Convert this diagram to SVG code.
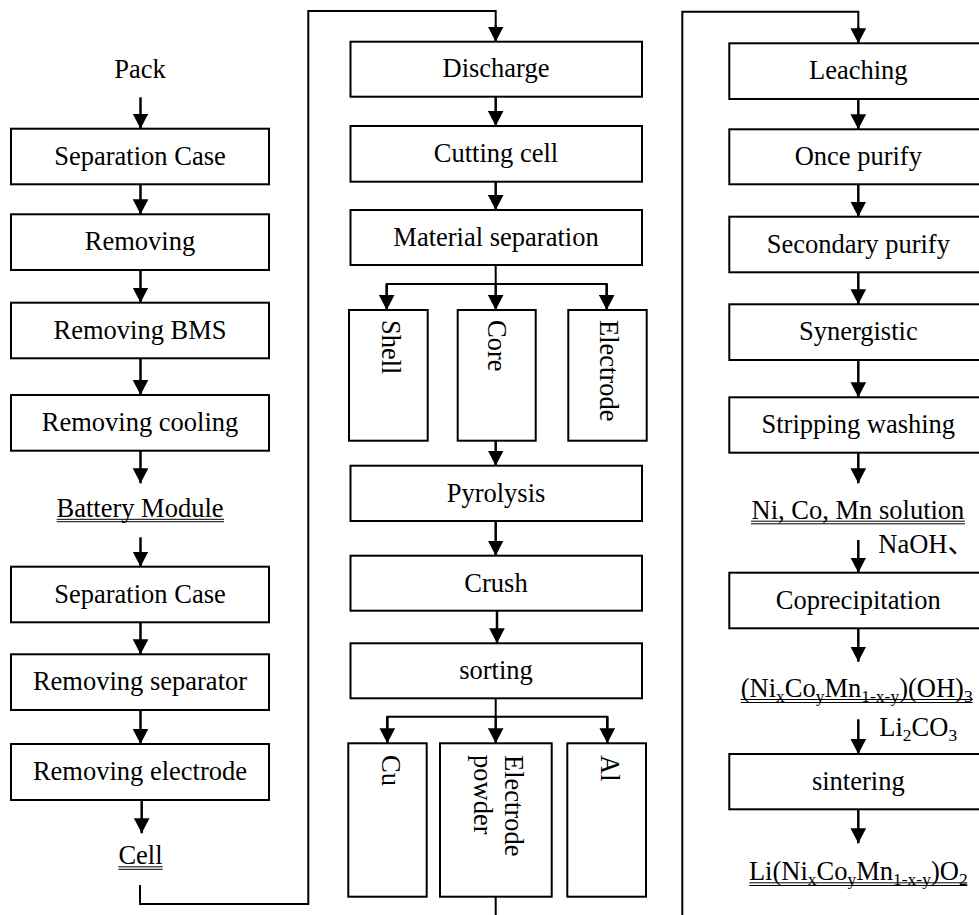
<svg xmlns="http://www.w3.org/2000/svg" width="979" height="915" viewBox="0 0 979 915">
<defs>
<style>
.box{fill:#fff;stroke:#000;stroke-width:2}
.t{font-family:"Liberation Serif","Times New Roman",serif;font-size:26.5px;fill:#000;text-anchor:middle}
.tv{font-family:"Liberation Serif","Times New Roman",serif;font-size:26.5px;fill:#000;text-anchor:start}
.tl{font-family:"Liberation Serif","Noto Sans CJK SC",serif;font-size:26.5px;fill:#000;text-anchor:start}
.sub{font-size:17.5px}
.ul{stroke:#000;stroke-width:1}
.arr{fill:none;stroke:#000;stroke-width:2.5;marker-end:url(#ah)}
.ln{fill:none;stroke:#000;stroke-width:2}
</style>
<marker id="ah" markerUnits="userSpaceOnUse" markerWidth="16" markerHeight="16" refX="15" refY="7.8" orient="auto">
<path d="M0,0 L15,7.8 L0,15.6 z" fill="#000"/>
</marker>
</defs>
<rect width="979" height="915" fill="#fff"/>

<!-- Left column -->
<g id="pack"><text class="t" x="140" y="77.5">Pack</text></g>
<g id="l1"><rect class="box" x="11" y="128.7" width="258" height="55.6"/><text class="t" x="140" y="164.5">Separation Case</text></g>
<g id="l2"><rect class="box" x="11" y="214.3" width="258" height="55.7"/><text class="t" x="140" y="250">Removing</text></g>
<g id="l3"><rect class="box" x="11" y="302.7" width="258" height="55.6"/><text class="t" x="140" y="338.5">Removing BMS</text></g>
<g id="l4"><rect class="box" x="11" y="395" width="258" height="55.7"/><text class="t" x="140" y="430.8">Removing cooling</text></g>
<g id="module"><text class="t" x="140" y="516.7">Battery Module</text><line class="ul" x1="56.7" y1="519.3" x2="224" y2="519.3"/><line class="ul" x1="56.7" y1="521.7" x2="224" y2="521.7"/></g>
<g id="l5"><rect class="box" x="11" y="566.7" width="258" height="55.6"/><text class="t" x="140" y="602.5">Separation Case</text></g>
<g id="l6"><rect class="box" x="11" y="654.3" width="258" height="55.7"/><text class="t" x="140" y="690">Removing separator</text></g>
<g id="l7"><rect class="box" x="11" y="744" width="258" height="56"/><text class="t" x="140" y="780">Removing electrode</text></g>
<g id="cell"><text class="t" x="140.5" y="864.3">Cell</text><line class="ul" x1="118.3" y1="866.8" x2="162.7" y2="866.8"/><line class="ul" x1="118.3" y1="869.3" x2="162.7" y2="869.3"/></g>

<!-- Middle column -->
<g id="m1"><rect class="box" x="350.5" y="41.7" width="291.5" height="55"/><text class="t" x="496" y="77">Discharge</text></g>
<g id="m2"><rect class="box" x="350.5" y="126" width="291.5" height="55.7"/><text class="t" x="496" y="161.8">Cutting cell</text></g>
<g id="m3"><rect class="box" x="350.5" y="210" width="291.5" height="55"/><text class="t" x="496" y="245.5">Material separation</text></g>
<g id="shell"><rect class="box" x="349" y="310" width="78.7" height="130.7"/><text class="tv" transform="translate(382,320) rotate(90)">Shell</text></g>
<g id="core"><rect class="box" x="457.7" y="310" width="78" height="130.7"/><text class="tv" transform="translate(488,320) rotate(90)">Core</text></g>
<g id="electrode"><rect class="box" x="568.3" y="310" width="78.4" height="130.7"/><text class="tv" transform="translate(600,320) rotate(90)">Electrode</text></g>
<g id="m4"><rect class="box" x="350.5" y="465.7" width="291.5" height="55.3"/><text class="t" x="496" y="501.5">Pyrolysis</text></g>
<g id="m5"><rect class="box" x="350.5" y="555.7" width="291.5" height="55"/><text class="t" x="496" y="591.5">Crush</text></g>
<g id="m6"><rect class="box" x="350.5" y="643.3" width="291.5" height="55"/><text class="t" x="496" y="678.5">sorting</text></g>
<g id="cu"><rect class="box" x="348.3" y="743.3" width="78.4" height="153.4"/><text class="tv" transform="translate(382,755) rotate(90)">Cu</text></g>
<g id="powder"><rect class="box" x="440" y="743.3" width="111.7" height="153.4"/><text class="tv" transform="translate(505,755) rotate(90)"><tspan x="0" y="0">Electrode</tspan><tspan x="0" y="31">powder</tspan></text></g>
<g id="al"><rect class="box" x="567.3" y="743.3" width="78.7" height="153.4"/><text class="tv" transform="translate(600.5,755) rotate(90)">Al</text></g>

<!-- Right column -->
<g id="r1"><rect class="box" x="729.3" y="43.3" width="260" height="55.7"/><text class="t" x="858.3" y="79">Leaching</text></g>
<g id="r2"><rect class="box" x="729.3" y="129.3" width="260" height="55"/><text class="t" x="858.3" y="164.8">Once purify</text></g>
<g id="r3"><rect class="box" x="729.3" y="216.7" width="260" height="55.6"/><text class="t" x="858.3" y="252.5">Secondary purify</text></g>
<g id="r4"><rect class="box" x="729.3" y="304.3" width="260" height="55.7"/><text class="t" x="858.3" y="340">Synergistic</text></g>
<g id="r5"><rect class="box" x="729.3" y="397.3" width="260" height="55.4"/><text class="t" x="858.3" y="433">Stripping washing</text></g>
<g id="solution"><text class="t" x="858" y="518.5">Ni, Co, Mn solution</text><line class="ul" x1="751" y1="521.2" x2="965" y2="521.2"/><line class="ul" x1="751" y1="523.8" x2="965" y2="523.8"/></g>
<g id="naoh"><text class="tl" x="878.3" y="553.3">NaOH、</text></g>
<g id="r6"><rect class="box" x="729.3" y="572.7" width="260" height="55.6"/><text class="t" x="858.3" y="608.5">Coprecipitation</text></g>
<g id="hydroxide"><text class="t" x="856.7" y="696.7">(Ni<tspan class="sub" dy="5">x</tspan><tspan dy="-5">Co</tspan><tspan class="sub" dy="5">y</tspan><tspan dy="-5">Mn</tspan><tspan class="sub" dy="5">1-x-y</tspan><tspan dy="-5">)(OH)</tspan><tspan class="sub" dy="5">3</tspan></text><line class="ul" x1="740.7" y1="699.5" x2="972.7" y2="699.5"/><line class="ul" x1="740.7" y1="702.5" x2="972.7" y2="702.5"/></g>
<g id="li2co3"><text class="tl" x="879.3" y="736">Li<tspan class="sub" dy="5">2</tspan><tspan dy="-5">CO</tspan><tspan class="sub" dy="5">3</tspan></text></g>
<g id="r7"><rect class="box" x="729.3" y="754" width="260" height="55.3"/><text class="t" x="858.3" y="789.8">sintering</text></g>
<g id="product"><text class="t" x="858.3" y="880">Li(Ni<tspan class="sub" dy="5">x</tspan><tspan dy="-5">Co</tspan><tspan class="sub" dy="5">y</tspan><tspan dy="-5">Mn</tspan><tspan class="sub" dy="5">1-x-y</tspan><tspan dy="-5">)O</tspan><tspan class="sub" dy="5">2</tspan></text><line class="ul" x1="749.3" y1="882.8" x2="967.3" y2="882.8"/><line class="ul" x1="749.3" y1="885.5" x2="967.3" y2="885.5"/></g>

<!-- Connectors -->
<g id="connectors">
<line class="arr" x1="140.5" y1="97.3" x2="140.5" y2="128.7"/>
<line class="arr" x1="140.5" y1="184.3" x2="140.5" y2="214.3"/>
<line class="arr" x1="140.5" y1="270" x2="140.5" y2="302.7"/>
<line class="arr" x1="140.5" y1="358.3" x2="140.5" y2="395"/>
<line class="arr" x1="140.5" y1="450.7" x2="140.5" y2="483.3"/>
<line class="arr" x1="140.5" y1="537.3" x2="140.5" y2="566.7"/>
<line class="arr" x1="140.5" y1="622.3" x2="140.5" y2="654.3"/>
<line class="arr" x1="140.5" y1="710" x2="140.5" y2="744"/>
<line class="arr" x1="141.7" y1="800" x2="141.7" y2="833.3"/>
<polyline class="ln" points="140,885 140,904 308.3,904 308.3,11 495.7,11 495.7,26"/>
<line class="arr" x1="495.7" y1="25" x2="495.7" y2="41.7"/>
<line class="arr" x1="495.7" y1="96.7" x2="495.7" y2="126"/>
<line class="arr" x1="495.7" y1="181.7" x2="495.7" y2="210"/>
<polyline class="ln" points="495.7,265 495.7,284"/>
<polyline class="ln" points="386.7,295 386.7,284 606.7,284 606.7,295"/>
<line class="arr" x1="386.7" y1="284" x2="386.7" y2="310"/>
<line class="arr" x1="495.7" y1="284" x2="495.7" y2="310"/>
<line class="arr" x1="606.7" y1="284" x2="606.7" y2="310"/>
<line class="arr" x1="495.7" y1="440.7" x2="495.7" y2="465.7"/>
<line class="arr" x1="495.7" y1="521" x2="495.7" y2="555.7"/>
<line class="arr" x1="497" y1="610.7" x2="497" y2="643.3"/>
<polyline class="ln" points="495.7,698.3 495.7,716.7"/>
<polyline class="ln" points="387.3,728 387.3,716.7 607.3,716.7 607.3,728"/>
<line class="arr" x1="387.3" y1="716.7" x2="387.3" y2="743.3"/>
<line class="arr" x1="495.7" y1="716.7" x2="495.7" y2="743.3"/>
<line class="arr" x1="607.3" y1="716.7" x2="607.3" y2="743.3"/>
<line class="ln" x1="495.7" y1="896.7" x2="495.7" y2="915"/>
<polyline class="ln" points="682.3,915 682.3,11.7 858.3,11.7 858.3,28"/>
<line class="arr" x1="858.3" y1="27" x2="858.3" y2="43.3"/>
<line class="arr" x1="858.3" y1="99" x2="858.3" y2="129.3"/>
<line class="arr" x1="858.3" y1="184.3" x2="858.3" y2="216.7"/>
<line class="arr" x1="858.3" y1="272.3" x2="858.3" y2="304.3"/>
<line class="arr" x1="858.3" y1="360" x2="858.3" y2="397.3"/>
<line class="arr" x1="858.3" y1="452.7" x2="858.3" y2="483.3"/>
<line class="arr" x1="858.3" y1="540" x2="858.3" y2="572.7"/>
<line class="arr" x1="858.3" y1="628.3" x2="858.3" y2="661.7"/>
<line class="arr" x1="858.3" y1="719.3" x2="858.3" y2="754"/>
<line class="arr" x1="858.3" y1="809.3" x2="858.3" y2="843.3"/>
</g>
</svg>
